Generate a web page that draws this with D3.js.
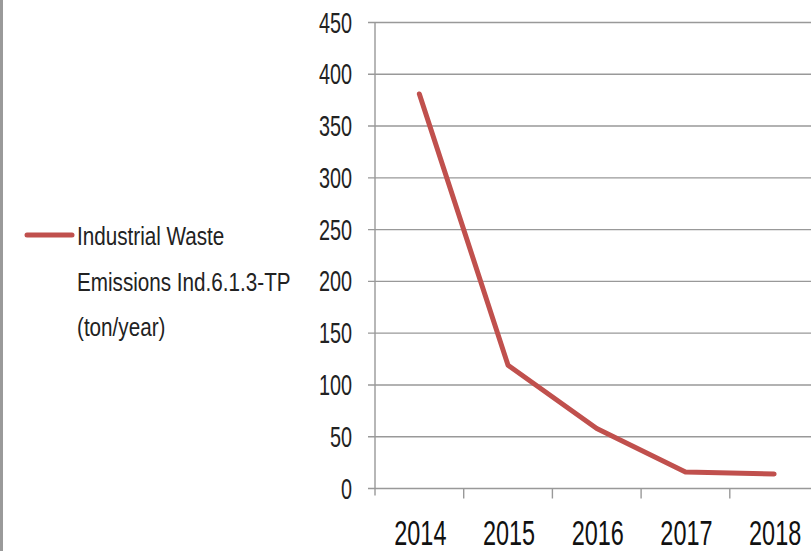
<!DOCTYPE html>
<html>
<head>
<meta charset="utf-8">
<script src="https://cdn.jsdelivr.net/npm/d3@7"></script>
<style>
  body { margin: 0; background: #fff; }
  svg { display: block; }
  text { font-family: 'Liberation Sans', Arial, sans-serif; }
</style>
</head>
<body>
<div id="chart"></div>
<script>
// data
var years = ["2014", "2015", "2016", "2017", "2018"];
var emissions = [381, 119, 58, 16, 14];
var yTicks = [0, 50, 100, 150, 200, 250, 300, 350, 400, 450];
var seriesName = ["Industrial Waste", "Emissions Ind.6.1.3-TP", "(ton/year)"];

var width = 811, height = 551;
var plot = { left: 375, top: 22.5, bottom: 488.5, step: 88.7 };

var svg = d3.select("#chart").append("svg")
    .attr("width", width)
    .attr("height", height);

// gray frame at the left edge
svg.append("rect")
    .attr("x", 0).attr("y", 0)
    .attr("width", 3).attr("height", height)
    .attr("fill", "#9a9a9a");

var x = d3.scaleBand()
    .domain(years)
    .range([plot.left, plot.left + plot.step * years.length]);

var y = d3.scaleLinear()
    .domain([0, 450])
    .range([plot.bottom, plot.top]);

// narrow, tall text: squeeze horizontally
function squeeze(sel, sx, fx, fy) {
    sel.attr("x", 0).attr("y", 0)
        .attr("transform", function(d, i) {
            return "translate(" + fx(d, i) + "," + fy(d, i) + ") scale(" + sx + ",1)";
        });
}

// horizontal gridlines
svg.selectAll(".grid")
    .data(yTicks)
    .enter().append("line")
    .attr("class", "grid")
    .attr("x1", plot.left - 7)
    .attr("x2", width)
    .attr("y1", function(d) { return y(d); })
    .attr("y2", function(d) { return y(d); })
    .attr("stroke", "#999")
    .attr("stroke-width", 1.4);

svg.selectAll(".ylabel")
    .data(yTicks)
    .enter().append("text")
    .attr("class", "ylabel")
    .attr("text-anchor", "end")
    .attr("fill", "#222")
    .style("font-size", "30px")
    .text(function(d) { return d; })
    .call(squeeze, 0.66,
        function() { return 352; },
        function(d) { return y(d) + 10; });

svg.append("line")
    .attr("x1", plot.left).attr("x2", plot.left)
    .attr("y1", plot.top).attr("y2", plot.bottom + 7)
    .attr("stroke", "#999")
    .attr("stroke-width", 1.4);

// x ticks sit on band edges
svg.selectAll(".xtick")
    .data(years.slice(1))
    .enter().append("line")
    .attr("class", "xtick")
    .attr("x1", function(d) { return x(d); })
    .attr("x2", function(d) { return x(d); })
    .attr("y1", plot.bottom)
    .attr("y2", plot.bottom + 10)
    .attr("stroke", "#999")
    .attr("stroke-width", 1.4);

svg.selectAll(".xlabel")
    .data(years)
    .enter().append("text")
    .attr("class", "xlabel")
    .attr("text-anchor", "middle")
    .attr("fill", "#111")
    .style("font-size", "35px")
    .text(function(d) { return d; })
    .call(squeeze, 0.67,
        function(d) { return x(d) + x.bandwidth() / 2 + 1; },
        function() { return 545; });

// the series
var line = d3.line()
    .x(function(d, i) { return x(years[i]) + x.bandwidth() / 2; })
    .y(function(d) { return y(d); });

svg.append("path")
    .datum(emissions)
    .attr("d", line)
    .attr("fill", "none")
    .attr("stroke", "#c0504d")
    .attr("stroke-width", 5)
    .attr("stroke-linejoin", "round")
    .attr("stroke-linecap", "round");

// legend
svg.append("line")
    .attr("x1", 27).attr("x2", 72)
    .attr("y1", 235).attr("y2", 235)
    .attr("stroke", "#c0504d")
    .attr("stroke-width", 5)
    .attr("stroke-linecap", "round");

svg.selectAll(".legend")
    .data(seriesName)
    .enter().append("text")
    .attr("class", "legend")
    .attr("fill", "#222")
    .style("font-size", "26.5px")
    .text(function(d) { return d; })
    .call(squeeze, 0.78,
        function() { return 77; },
        function(d, i) { return 245 + i * 45.5; });
</script>
</body>
</html>
